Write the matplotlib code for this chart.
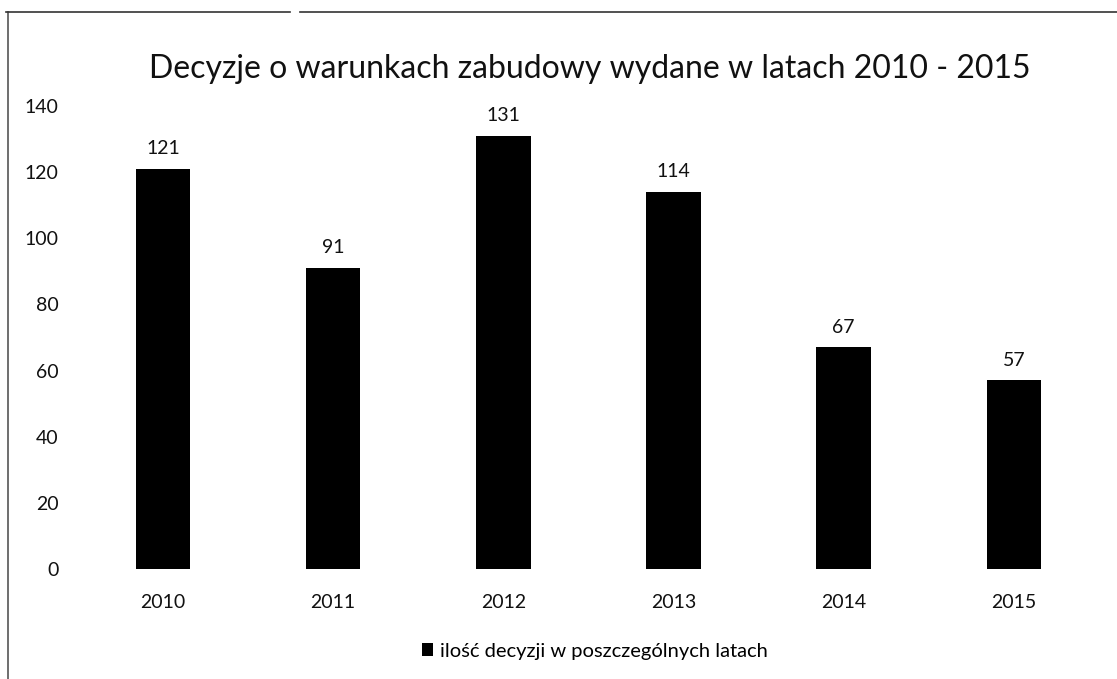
import matplotlib.pyplot as plt
from matplotlib.lines import Line2D

plt.rcParams['font.family'] = ['Lato', 'DejaVu Sans']

years = ['2010', '2011', '2012', '2013', '2014', '2015']
decyzje = [121, 91, 131, 114, 67, 57]
y_ticks = [0, 20, 40, 60, 80, 100, 120, 140]

fig = plt.figure(figsize=(11.17, 6.79), dpi=100)
ax = fig.add_axes([0.0698, 0.162, 0.914, 0.682])

bars = ax.bar(years, decyzje, width=0.32, color='black',
              label='ilość decyzji w poszczególnych latach')

for rect, v in zip(bars, decyzje):
    ax.text(rect.get_x() + rect.get_width() / 2, v + 3.5, str(v),
            ha='center', va='bottom', fontsize=14, color='#111111')

ax.set_xlim(-0.5, len(years) - 0.5)
ax.set_ylim(0, 140)
ax.set_yticks(y_ticks)
ax.tick_params(axis='both', length=0, labelsize=14, colors='#111111')
ax.tick_params(axis='x', pad=18)
ax.tick_params(axis='y', pad=14)
for lbl in ax.get_yticklabels():
    lbl.set_y(lbl.get_position()[1])
for s in ax.spines.values():
    s.set_visible(False)

fig.text(0.528, 0.898, 'Decyzje o warunkach zabudowy wydane w latach 2010 - 2015',
         ha='center', va='center', fontsize=23, color='#111111')

leg = fig.legend(handles=[bars], labels=['ilość decyzji w poszczególnych latach'],
                 loc='center', bbox_to_anchor=(0.533, 0.041), frameon=False,
                 fontsize=14.5, handlelength=0.55, handleheight=0.55,
                 handletextpad=0.35)

# scan frame remnants
fig.add_artist(Line2D([0.007, 0.007], [0.0, 0.982], color='#555555', lw=1.2))
fig.add_artist(Line2D([0.005, 0.26], [0.982, 0.982], color='#333333', lw=1.2))
fig.add_artist(Line2D([0.269, 1.0], [0.982, 0.982], color='#333333', lw=1.2))

fig.savefig('out.png', dpi=100)
